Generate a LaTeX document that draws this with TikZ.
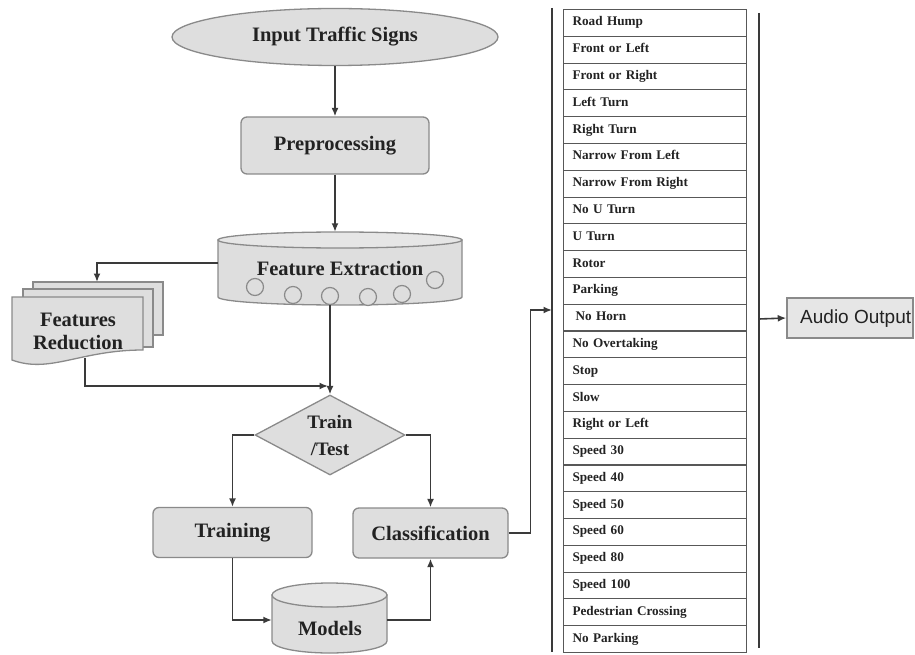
\documentclass[tikz,border=0pt]{standalone}
\usepackage{fontspec}
\setmainfont{Liberation Serif}
\newfontfamily\sansf{Liberation Sans}
\usetikzlibrary{shapes.geometric,arrows.meta}
\definecolor{gfill}{HTML}{DEDEDE}
\definecolor{gtop}{HTML}{E6E6E6}
\definecolor{gborder}{HTML}{8A8A8A}
\definecolor{lnk}{HTML}{3A3A3A}
\definecolor{txt}{HTML}{222222}
\begin{document}
\begin{tikzpicture}[x=1pt,y=-1pt,
  shapeline/.style={draw=gborder, line width=1.3pt, fill=gfill},
  rbox/.style={shapeline, rectangle, rounded corners=6pt, inner sep=0pt},
  lbl/.style={font=\fontsize{20.5}{24}\selectfont\bfseries, text=txt},
  arr/.style={draw=lnk, line width=1.6pt, -{Latex[length=8.5pt,width=7pt]}},
  lnkline/.style={draw=lnk, line width=1.6pt},
  rowbox/.style={draw=lnk!85, line width=1.1pt, rectangle, minimum width=183pt,
    minimum height=26.79pt, text width=165pt, inner xsep=9pt, inner ysep=0pt,
    text height=9pt, text depth=3pt,
    align=left, anchor=north west, font=\fontsize{13.2}{14}\selectfont\bfseries, text=txt},
]
\useasboundingbox (0,0) rectangle (915,655);

% input ellipse
\node[ellipse, shapeline, minimum width=326pt, minimum height=57pt, inner sep=0pt, lbl] (input) at (335,37) {Input Traffic Signs};
% preprocessing
\node[rbox, minimum width=188pt, minimum height=57pt, lbl] (prep) at (335,145.5) {\raisebox{4pt}{Preprocessing}};

% feature extraction cylinder
\path[shapeline] (218,240) -- (218,297) arc[start angle=180, end angle=360, x radius=122pt, y radius=8pt] -- (462,240) -- cycle;
\path[draw=gborder, line width=1.3pt, fill=gtop] (340,240) ellipse [x radius=122pt, y radius=8pt];
\foreach \cx/\cy in {255/287, 293/295, 330/296, 368/297, 402/294, 435/280}
  \draw[draw=gborder, line width=1.2pt, fill=gfill] (\cx,\cy) circle [radius=8.5pt];
\node[minimum width=244pt, minimum height=73pt, inner sep=0pt, lbl] (fe) at (340,268.5) {Feature Extraction};
\coordinate (feL) at (218,263);
\coordinate (feB) at (330,305);

% features reduction (stacked documents)
\path[shapeline] (33,282) rectangle (163,335);
\path[shapeline] (23,289) rectangle (153,347);
\path[shapeline] (12,297) -- (143,297) -- (143,350) .. controls (80,350) and (50,374) .. (12,360) -- cycle;
\node[align=center, font=\fontsize{20.5}{23}\selectfont\bfseries, text=txt] (fr) at (78,331.5) {Features\\Reduction};
\coordinate (frT) at (97,282);
\coordinate (frB) at (85,358);
\coordinate (join) at (328,386);

% decision
\node[diamond, shapeline, minimum width=150pt, minimum height=80pt, aspect=1.875, inner sep=0pt,
  align=center, font=\fontsize{19}{27}\selectfont\bfseries, text=txt] (dia) at (330,435) {Train\\/Test};

% training / classification
\node[rbox, minimum width=159pt, minimum height=50pt, lbl] (train) at (232.5,532.5) {Training};
\node[rbox, minimum width=155pt, minimum height=50pt, lbl] (cls) at (430.5,533) {Classification};

% models cylinder
\path[shapeline] (272,595) -- (272,641) arc[start angle=180, end angle=360, x radius=57.5pt, y radius=12pt] -- (387,595) -- cycle;
\path[draw=gborder, line width=1.3pt, fill=gtop] (329.5,595) ellipse [x radius=57.5pt, y radius=12pt];
\node[minimum width=115pt, minimum height=50pt, inner sep=0pt] (mod) at (329.5,620) {};
\node[lbl] at (330,628) {Models};

% class list
\draw[lnkline] (552,8) -- (552,652);
\draw[lnkline] (759,13) -- (759,648);
\foreach [count=\i] \t in {Road Hump, Front or Left, Front or Right, Left Turn, Right Turn,
  Narrow From Left, Narrow From Right, No U Turn, U Turn, Rotor, Parking, {\hspace{3pt}No Horn},
  No Overtaking, Stop, Slow, Right or Left, Speed 30, Speed 40, Speed 50, Speed 60, Speed 80,
  Speed 100, Pedestrian Crossing, No Parking}
  \node[rowbox] (row\i) at (563,{9+(\i-1)*26.79}) {\t};
\coordinate (inL) at (552,310);
\coordinate (outR) at (759,319);

% audio output
\node[draw=gborder, line width=1.5pt, fill=gtop, minimum width=126pt, minimum height=40pt, inner sep=0pt] (audio) at (850,318) {};
\node[anchor=west, inner sep=0pt, font=\sansf\fontsize{19}{22}\selectfont, text=txt] at (800,319) {Audio Output};

% connectors
\draw[arr] (input.south) -- (prep.north);
\draw[arr] (prep.south) -- (prep.south |- fe.north);
\draw[arr] (feL) -| (frT);
\draw[arr] (feB) -- (dia.north);
\draw[arr] (frB) |- (join);
\draw[arr] (dia.west) -| (train.north);
\draw[arr] (dia.east) -| (cls.north);
\draw[arr] (train.south) |- (mod.west);
\draw[arr] (mod.east) -| (cls.south);
\draw[arr] (cls.east) -- ++(22,0) |- (inL);
\draw[arr] (outR) -- (audio.west);
\end{tikzpicture}
\end{document}
